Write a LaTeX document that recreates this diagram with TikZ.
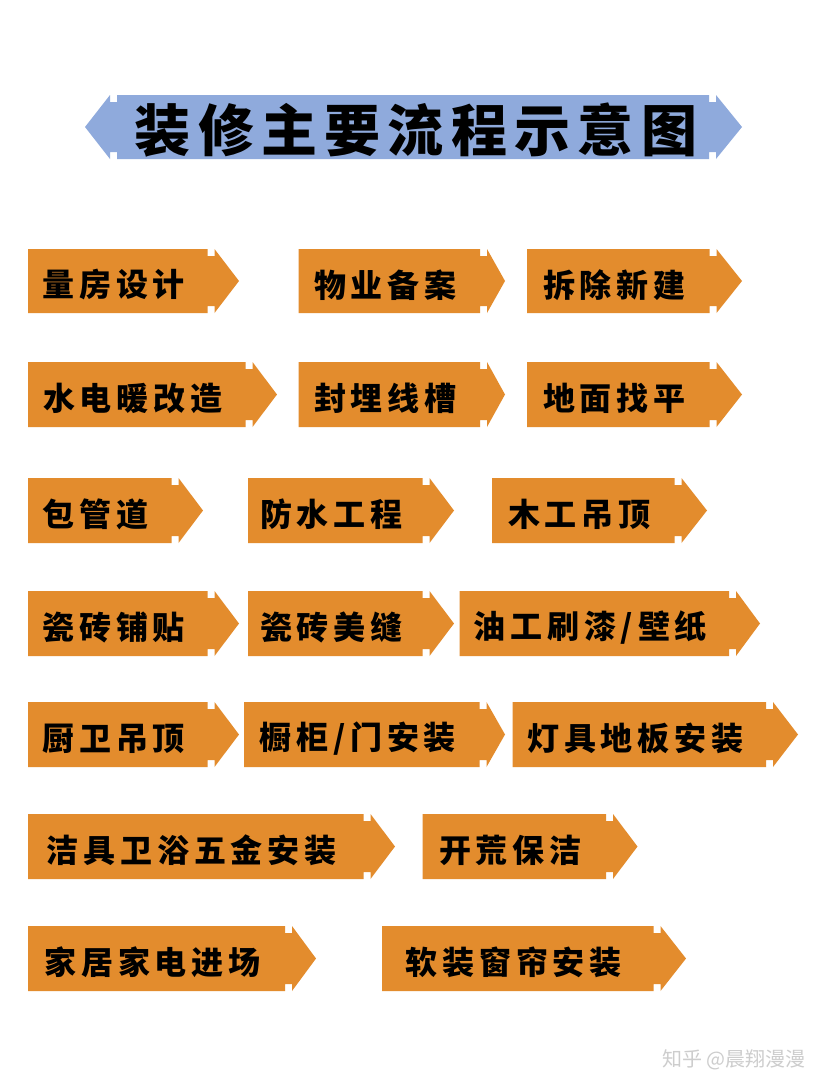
\documentclass[tikz,border=0pt]{standalone}
\usepackage{fontspec}
\newfontfamily\cjk{Noto Sans CJK SC}
\definecolor{procorange}{HTML}{E38C2D}
\definecolor{bannerblue}{HTML}{8FAADC}
\definecolor{wmgrey}{HTML}{CDCDCD}
\tikzset{
  procfill/.style={fill=procorange},
  proctext/.style={inner sep=0pt, text=black, font={\cjk\bfseries\fontsize{32}{38}\selectfont\addfontfeature{LetterSpace=15}}},
  titletext/.style={inner sep=0pt, text=black, font={\cjk\bfseries\fontsize{56}{62}\selectfont\addfontfeature{LetterSpace=13}}},
  wmtext/.style={inner sep=0pt, text=wmgrey, font={\cjk\fontsize{20}{24}\selectfont}}
}
% #1 name, #2 left, #3 notch x, #4 top, #5 bottom, #6 tip x, #7 text
\newcommand\procarrow[7]{%
  \fill[procfill] (#2,#4) -- (#3,#4) -- (#3,{#4+7}) -- ({#3+7},{#4+7}) -- ({#3+7},#4)
    -- (#6,{(#4+#5)/2}) -- ({#3+7},#5) -- ({#3+7},{#5-7}) -- (#3,{#5-7}) -- (#3,#5)
    -- (#2,#5) -- cycle;
  \node[proctext] (#1) at ({(#2+#3)/2-4},{(#4+#5)/2+4}) {#7};
}
\begin{document}
\begin{tikzpicture}[x=1pt,y=-1pt]
\useasboundingbox[fill=white] (0,0) rectangle (828,1092);
% title banner
\fill[bannerblue] (117,95) -- (709,95) -- (709,102) -- (716,102) -- (716,95) -- (742,127)
  -- (716,159) -- (716,152) -- (709,152) -- (709,159) -- (117,159) -- (117,152)
  -- (110,152) -- (110,159) -- (85,127) -- (110,95) -- (110,102) -- (117,102) -- cycle;
\node[titletext] (title) at (416,130) {装修主要流程示意图};
% row 1
\procarrow{a1}{28}{207.5}{249}{313}{239}{量房设计}
\procarrow{a2}{298.5}{480}{249}{313}{505}{物业备案}
\procarrow{a3}{527}{709.5}{249}{313}{742}{拆除新建}
% row 2
\procarrow{b1}{28}{245.5}{362}{427}{277}{水电暖改造}
\procarrow{b2}{298.5}{480}{362}{427}{505}{封埋线槽}
\procarrow{b3}{527}{709.5}{362}{427}{742}{地面找平}
% row 3
\procarrow{c1}{28}{171.5}{478}{543}{203}{包管道}
\procarrow{c2}{248}{422.5}{478}{543}{454}{防水工程}
\procarrow{c3}{492}{674.5}{478}{543}{707}{木工吊顶}
% row 4
\procarrow{d1}{28}{207.5}{591}{656}{239}{瓷砖铺贴}
\procarrow{d2}{248}{422.5}{591}{656}{454}{瓷砖美缝}
\procarrow{d3}{459.5}{729}{591}{656}{760}{油工刷漆/壁纸}
% row 5
\procarrow{e1}{28}{207.5}{702}{767}{239}{厨卫吊顶}
\procarrow{e2}{244}{479.5}{702}{767}{505}{橱柜/门安装}
\procarrow{e3}{512.5}{766}{702}{767}{798}{灯具地板安装}
% row 6
\procarrow{f1}{28}{363.5}{814}{879}{395}{洁具卫浴五金安装}
\procarrow{f2}{422.5}{606}{814}{879}{637.5}{开荒保洁}
% row 7
\procarrow{g1}{28}{285}{926}{991}{316}{家居家电进场}
\procarrow{g2}{382}{653.5}{926}{991}{686}{软装窗帘安装}
% watermark
\node[wmtext, anchor=east] (wm) at (806,1060) {知乎 @晨翔漫漫};
\end{tikzpicture}
\end{document}
